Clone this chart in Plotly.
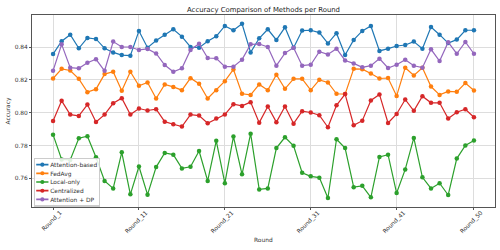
import plotly.graph_objects as go

rounds = [f"Round_{i}" for i in range(1, 51)]
tick_labels = ["Round_1", "Round_11", "Round_21", "Round_31", "Round_41", "Round_50"]
y_ticks = [0.76, 0.78, 0.80, 0.82, 0.84]

attention_based = [0.8357, 0.8435, 0.8475, 0.8392, 0.8455, 0.8449, 0.8392, 0.8367, 0.8351, 0.8347,
                   0.8498, 0.8396, 0.8439, 0.8475, 0.8508, 0.8463, 0.8400, 0.8396, 0.8435, 0.8465,
                   0.8528, 0.8502, 0.8541, 0.8367, 0.8453, 0.8508, 0.8443, 0.8520, 0.8396, 0.8500,
                   0.8502, 0.8488, 0.8422, 0.8484, 0.8351, 0.8443, 0.8498, 0.8528, 0.8376, 0.8390,
                   0.8406, 0.8412, 0.8433, 0.8390, 0.8522, 0.8475, 0.8424, 0.8445, 0.8502, 0.8502]
fedavg = [0.8208, 0.8267, 0.8257, 0.8206, 0.8125, 0.8143, 0.8235, 0.8249, 0.8133, 0.8249,
          0.8164, 0.8184, 0.8086, 0.8172, 0.8157, 0.8137, 0.8210, 0.8176, 0.8086, 0.8137,
          0.8192, 0.8263, 0.8115, 0.8108, 0.8172, 0.8137, 0.8231, 0.8145, 0.8206, 0.8206,
          0.8137, 0.8200, 0.8184, 0.8115, 0.8113, 0.8267, 0.8265, 0.8239, 0.8208, 0.8211,
          0.8102, 0.8274, 0.8227, 0.8274, 0.8159, 0.8108, 0.8129, 0.8127, 0.8180, 0.8135]
local_only = [0.7866, 0.7715, 0.7712, 0.7844, 0.7856, 0.7728, 0.7584, 0.7538, 0.7758, 0.7502,
              0.7672, 0.7500, 0.7668, 0.7754, 0.7744, 0.7660, 0.7670, 0.7766, 0.7584, 0.7828,
              0.7570, 0.7854, 0.7624, 0.7872, 0.7532, 0.7538, 0.7784, 0.7850, 0.7798, 0.7634,
              0.7612, 0.7604, 0.7480, 0.7838, 0.7784, 0.7546, 0.7554, 0.7484, 0.7730, 0.7744,
              0.7510, 0.7654, 0.7846, 0.7606, 0.7538, 0.7570, 0.7498, 0.7720, 0.7800, 0.7830]
centralized = [0.7949, 0.8072, 0.7988, 0.7980, 0.8049, 0.7943, 0.7988, 0.8057, 0.8088, 0.7988,
               0.8025, 0.8013, 0.8021, 0.7945, 0.7929, 0.7915, 0.7988, 0.7982, 0.7935, 0.7964,
               0.7988, 0.8051, 0.8041, 0.8064, 0.7939, 0.8037, 0.7942, 0.8037, 0.7933, 0.8009,
               0.8001, 0.7984, 0.7911, 0.8045, 0.8113, 0.7923, 0.7951, 0.8074, 0.8111, 0.7937,
               0.7992, 0.8080, 0.8011, 0.8100, 0.8060, 0.8060, 0.7964, 0.8002, 0.8021, 0.7972]
attention_dp = [0.8255, 0.8416, 0.8274, 0.8270, 0.8304, 0.8325, 0.8255, 0.8433, 0.8400, 0.8400,
                0.8382, 0.8388, 0.8361, 0.8290, 0.8249, 0.8270, 0.8382, 0.8420, 0.8333, 0.8331,
                0.8280, 0.8280, 0.8323, 0.8416, 0.8418, 0.8400, 0.8286, 0.8363, 0.8396, 0.8286,
                0.8292, 0.8371, 0.8355, 0.8390, 0.8318, 0.8300, 0.8276, 0.8286, 0.8329, 0.8272,
                0.8292, 0.8323, 0.8286, 0.8274, 0.8386, 0.8314, 0.8429, 0.8359, 0.8431, 0.8359]

series = [
    ("Attention-based", attention_based, "#1f77b4"),
    ("FedAvg", fedavg, "#ff7f0e"),
    ("Local-only", local_only, "#2ca02c"),
    ("Centralized", centralized, "#d62728"),
    ("Attention + DP", attention_dp, "#9467bd"),
]

FONT = "DejaVu Sans"
TXT = "#333333"
LEG_SCALE = 0.34

fig = go.Figure()
for name, vals, color in series:
    fig.add_trace(go.Scatter(
        x=rounds, y=vals, name=name, mode="lines+markers",
        line=dict(color=color, width=1.2),
        marker=dict(color=color, size=4.5),
    ))

fig.update_layout(
    width=500, height=250,
    margin=dict(l=32, r=5, t=15, b=43),
    paper_bgcolor="white", plot_bgcolor="white",
    hovermode=False,
    font=dict(family=FONT, size=5.9, color=TXT),
    title=dict(text="Accuracy Comparison of Methods per Round", x=0.5, xref="paper",
               y=1 - 9.5 / 250, yanchor="middle", xanchor="center",
               font=dict(family=FONT, size=6.9, color="#222")),
    showlegend=True,
    legend=dict(x=0, y=0, xanchor="left", yanchor="bottom",
                bgcolor="rgba(255,255,255,0.85)", bordercolor="#cccccc", borderwidth=3,
                font=dict(family=FONT, size=5.9 / LEG_SCALE, color=TXT),
                itemsizing="constant", itemwidth=36),
    annotations=[dict(text="Round", xref="paper", yref="paper", x=0.5, y=-(240 - 207) / 192,
                      xanchor="center", yanchor="middle", showarrow=False,
                      font=dict(family=FONT, size=5.9, color=TXT))],
)
fig.update_xaxes(
    type="category", categoryorder="array", categoryarray=rounds,
    range=[-2.45, 51.45],
    tickmode="array", tickvals=tick_labels, ticktext=tick_labels,
    tickangle=-45, ticklabelshift=7, ticklabelstandoff=-3,
    ticks="outside", ticklen=2, tickcolor="#555",
    showgrid=True, gridcolor="#dddddd", gridwidth=1,
    showline=True, linecolor="#555", linewidth=1, mirror=True,
    zeroline=False,
)
fig.update_yaxes(
    range=[0.7425, 0.8595],
    tickmode="array", tickvals=y_ticks, tickformat=".2f",
    ticks="outside", ticklen=2, tickcolor="#555",
    showgrid=True, gridcolor="#dddddd", gridwidth=1,
    showline=True, linecolor="#555", linewidth=1, mirror=True,
    title=dict(text="Accuracy", standoff=3, font=dict(size=5.9, color=TXT)),
    zeroline=False,
)

post = """
document.body.style.margin = '0';
document.body.style.overflow = 'hidden';
var gd = document.getElementById('{plot_id}');
function fixLegend(){
  var leg = gd.querySelector('g.legend');
  if(!leg) return;
  var s = %f;
  var bb = leg.getBBox();
  leg.setAttribute('transform', 'translate(33.5,' + (205.5 - bb.height*s) + ') scale(' + s + ')');
}
fixLegend();
""" % LEG_SCALE

fig.write_html("out.html", post_script=post,
               config={"displayModeBar": False, "staticPlot": True})
